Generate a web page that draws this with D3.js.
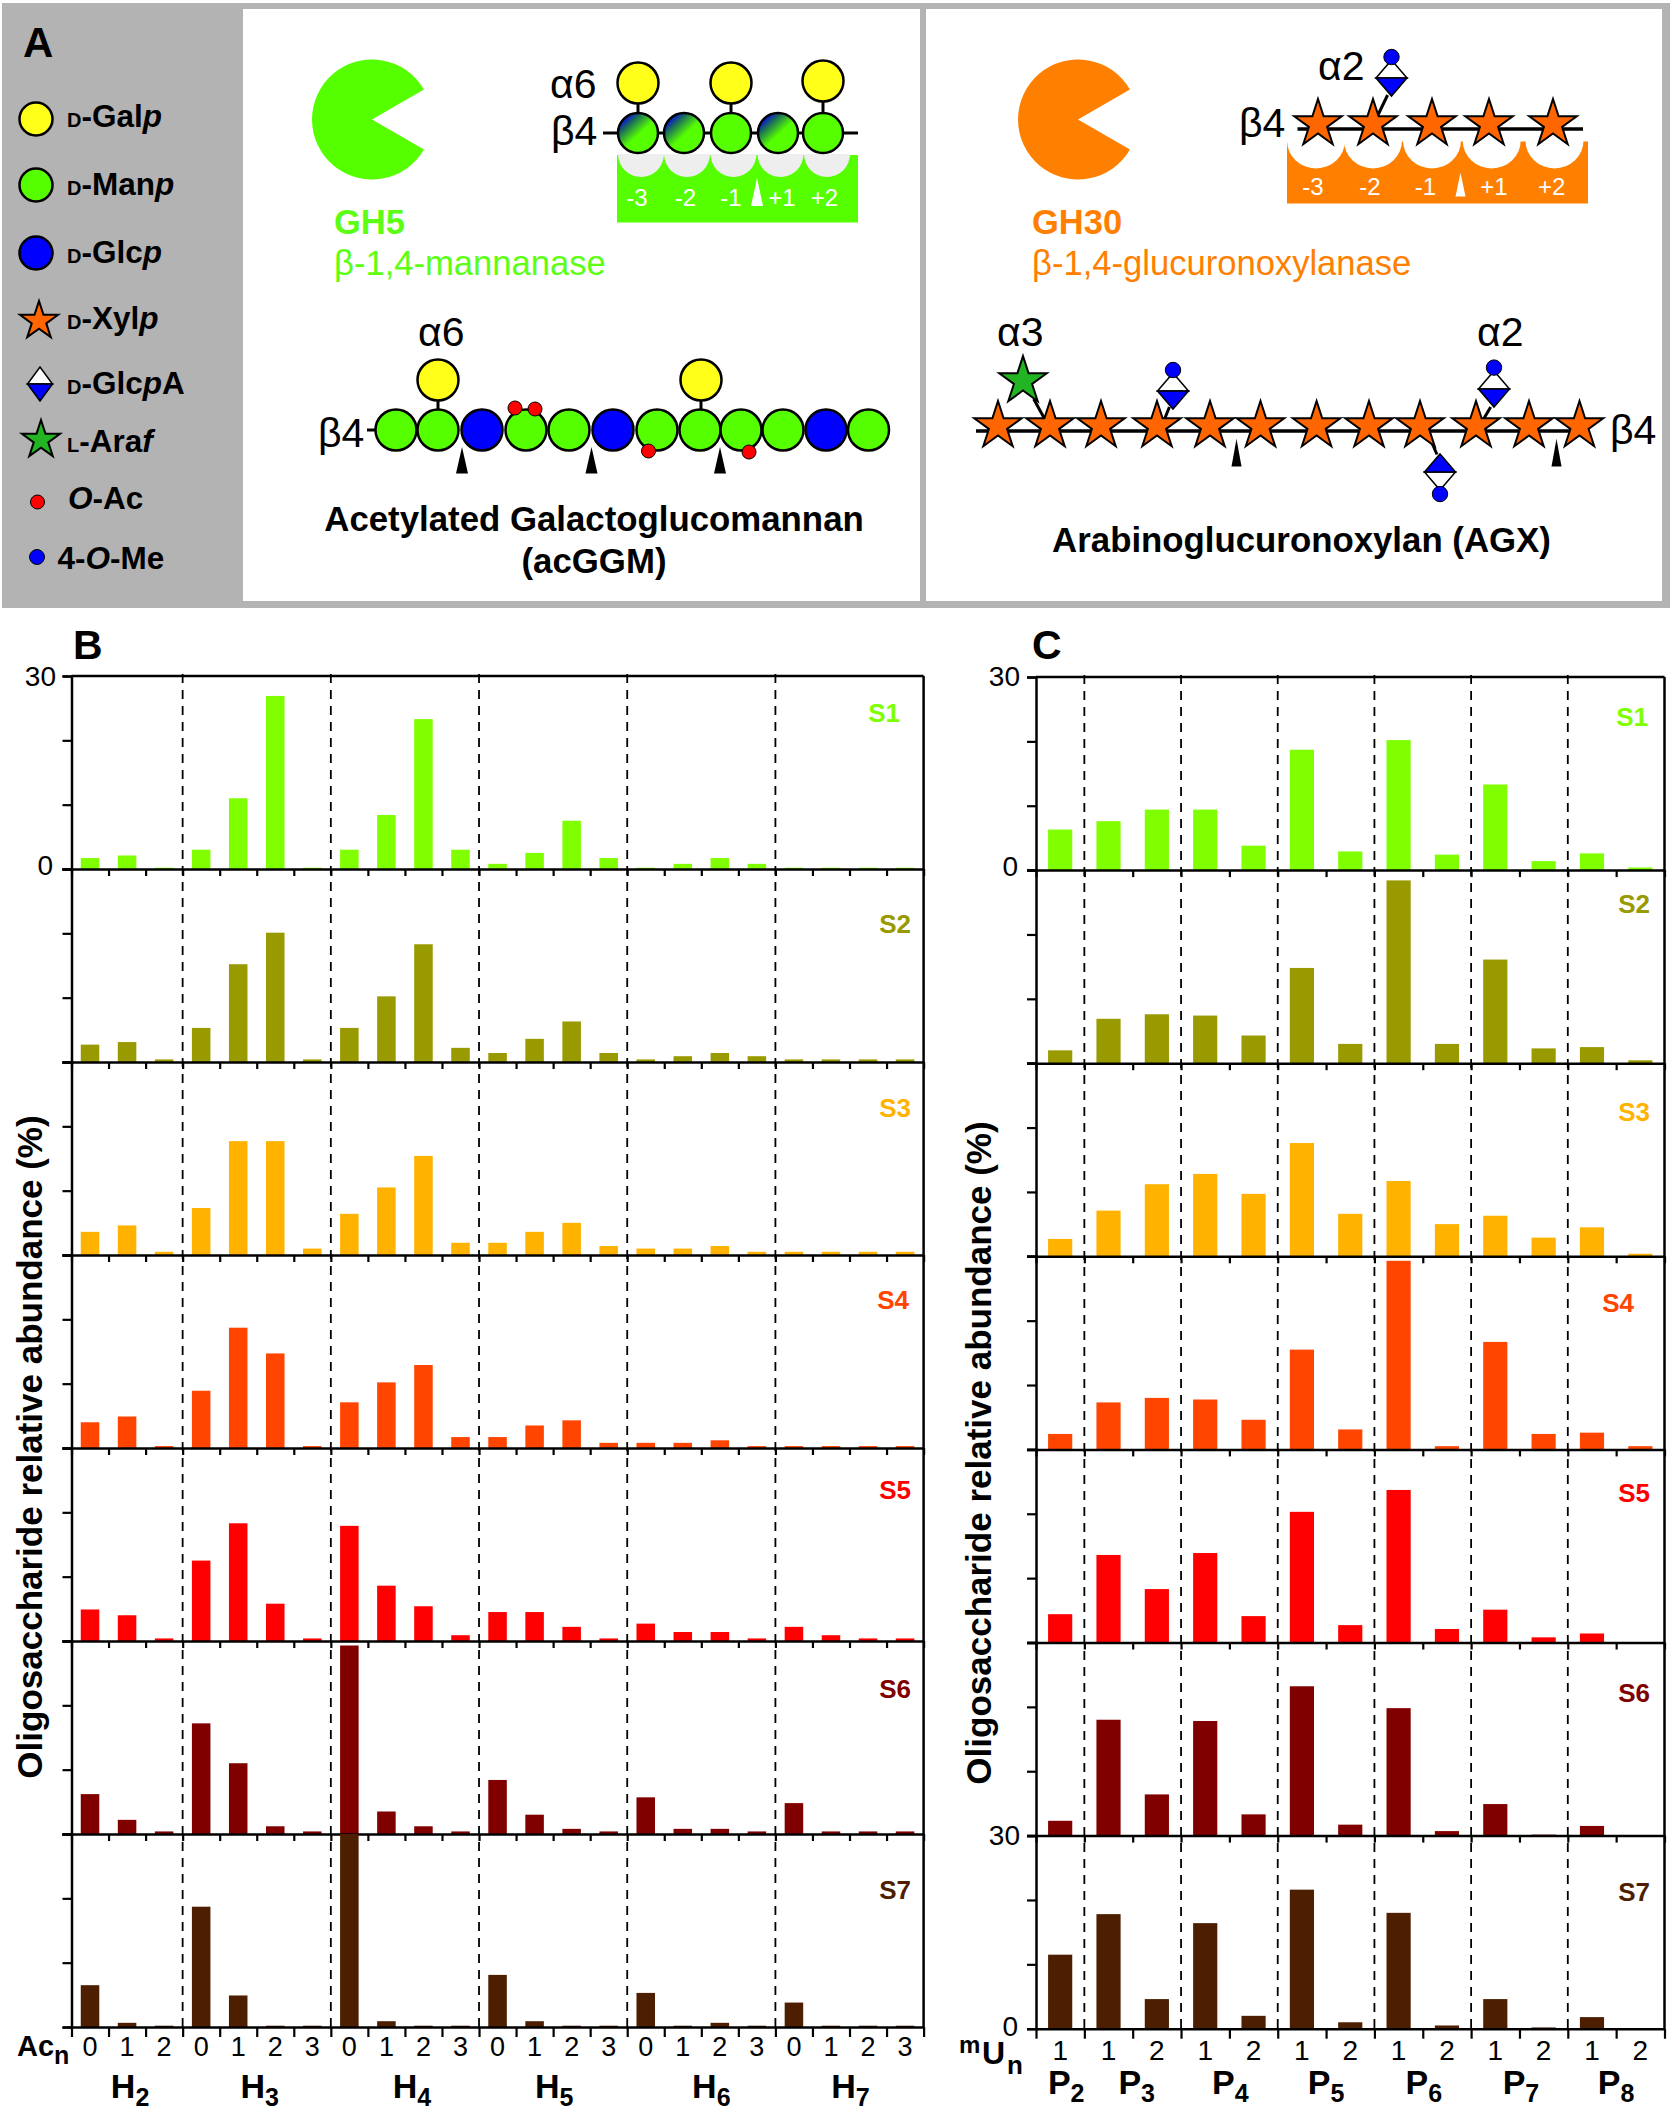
<!DOCTYPE html>
<html>
<head>
<meta charset="utf-8">
<style>
  body { margin: 0; background: #fff; }
  svg { display: block; }
  text { font-family: "Liberation Sans", Arial, sans-serif; fill: #000; }
</style>
<script src="https://cdn.jsdelivr.net/npm/d3@7"></script>
</head>
<body>
<div id="chart"></div>
<script>
// panel B: one value per Ac slot, H2 has 3 slots, the others 4
var hexoseGroups = ["2", "3", "4", "5", "6", "7"];
var acTicks = ["0","1","2", "0","1","2","3", "0","1","2","3", "0","1","2","3", "0","1","2","3", "0","1","2","3"];
var hGroupSizes = [3, 4, 4, 4, 4, 4];

var s1Hex = [1.7,2.1,0.2, 3.0,11.0,26.9,0.2, 3.0,8.4,23.3,3.0, 0.8,2.5,7.5,1.7, 0.2,0.8,1.7,0.8, 0.2,0.2,0.2,0.2];
var s2Hex = [2.7,3.1,0.4, 5.3,15.2,20.1,0.4, 5.3,10.2,18.3,2.2, 1.4,3.6,6.3,1.4, 0.4,0.9,1.4,0.9, 0.4,0.4,0.4,0.4];
var s3Hex = [3.6,4.6,0.5, 7.3,17.7,17.7,1.0, 6.4,10.5,15.4,1.9, 1.9,3.6,5.0,1.4, 1.0,1.0,1.4,0.5, 0.5,0.5,0.5,0.5];
var s4Hex = [4.0,4.9,0.3, 8.9,18.7,14.7,0.3, 7.1,10.2,12.9,1.7, 1.7,3.5,4.3,0.8, 0.8,0.8,1.2,0.3, 0.3,0.3,0.3,0.3];
var s5Hex = [4.9,4.0,0.4, 12.5,18.3,5.8,0.4, 17.9,8.6,5.4,0.9, 4.5,4.5,2.2,0.4, 2.7,1.4,1.4,0.4, 2.2,0.9,0.4,0.4];
var s6Hex = [6.2,2.2,0.4, 17.2,11.0,1.2,0.4, 29.3,3.5,1.2,0.4, 8.4,3.0,0.8,0.4, 5.7,0.8,0.8,0.4, 4.8,0.4,0.4,0.4];
var s7Hex = [6.5,0.65,0.2, 18.7,4.9,0.2,0.2, 30,0.9,0.2,0.2, 8.1,0.9,0.2,0.2, 5.3,0.2,0.65,0.2, 3.8,0.2,0.2,0.2];

// panel C: P2 has a single slot, the others 2
var pentoseGroups = ["2", "3", "4", "5", "6", "7", "8"];
var muTicks = ["1", "1","2", "1","2", "1","2", "1","2", "1","2", "1","2"];
var pGroupSizes = [1, 2, 2, 2, 2, 2, 2];

var s1Pen = [6.3, 7.6,9.4, 9.4,3.8, 18.7,2.9, 20.2,2.4, 13.3,1.4, 2.6,0.4];
var s2Pen = [2.0, 6.9,7.6, 7.4,4.3, 14.8,3.0, 28.4,3.0, 16.1,2.3, 2.5,0.45];
var s3Pen = [2.7, 7.1,11.2, 12.8,9.7, 17.6,6.6, 11.7,5.0, 6.3,2.9, 4.5,0.4];
var s4Pen = [2.4, 7.3,8.0, 7.75,4.6, 15.5,3.1, 29.3,0.5, 16.7,2.4, 2.6,0.5];
var s5Pen = [4.4, 13.6,8.3, 13.9,4.1, 20.3,2.7, 23.7,2.1, 5.1,0.8, 1.4,0];
var s6Pen = [2.3, 18.0,6.4, 17.8,3.3, 23.2,1.7, 19.8,0.7, 4.9,0.15, 1.5,0];
var s7Pen = [11.5, 17.8,4.6, 16.4,2.0, 21.6,1.0, 18.0,0.5, 4.6,0.2, 1.8,0];

var sampleNames = ["S1", "S2", "S3", "S4", "S5", "S6", "S7"];
var sampleColors = ["#80FF00", "#999900", "#FFB300", "#FF4500", "#FF0000", "#800000", "#4D1F00"];
var yTickValues = [0, 10, 20, 30];

var hexSeries = [s1Hex, s2Hex, s3Hex, s4Hex, s5Hex, s6Hex, s7Hex];
var penSeries = [s1Pen, s2Pen, s3Pen, s4Pen, s5Pen, s6Pen, s7Pen];

// sugar chains of panel A, order along the backbone
var ggmChain = ["man","man","glc","man","man","glc","man","man","man","man","glc","man"];
var enzymeGreen = "#55FF00", enzymeOrange = "#FF8000";
var sugarFill = { gal: "#FFFF19", man: "#55FF00", glc: "#0000FF", xyl: "#FF6600", ara: "#22B422" };

var svg = d3.select("#chart").append("svg")
  .attr("width", 1672)
  .attr("height", 2110);

var grad = svg.append("defs").append("linearGradient")
  .attr("id", "cutResidue")
  .attr("x1", "15%").attr("y1", "10%").attr("x2", "75%").attr("y2", "75%");
grad.append("stop").attr("offset", "0%").attr("stop-color", "#0000FF");
grad.append("stop").attr("offset", "25%").attr("stop-color", "#1B6B5A");
grad.append("stop").attr("offset", "65%").attr("stop-color", "#55FF00");

// writes a text made of runs, each run [string, {size, italic, dy}]
function rich(g, x, y, size, bold, runs, anchor, color) {
  var t = g.append("text")
    .attr("x", x).attr("y", y)
    .attr("font-size", size)
    .attr("font-weight", bold ? "bold" : "normal")
    .attr("text-anchor", anchor || "start");
  if (color) t.style("fill", color);
  if (typeof runs === "string") { t.text(runs); return t; }
  runs.forEach(function(r) {
    var opt = r[1] || {};
    var s = t.append("tspan").text(r[0]);
    if (opt.size) s.attr("font-size", opt.size);
    if (opt.italic) s.attr("font-style", "italic");
    if (opt.dy) s.attr("dy", opt.dy);
    if (color) s.style("fill", color);
  });
  return t;
}

/* ---------- panel A ---------- */
var panelA = svg.append("g");
panelA.append("rect").attr("x", 2).attr("y", 3).attr("width", 1668).attr("height", 605).attr("fill", "#B3B3B3");
panelA.append("rect").attr("x", 243).attr("y", 9).attr("width", 677).attr("height", 592).attr("fill", "#fff");
panelA.append("rect").attr("x", 926).attr("y", 9).attr("width", 736).attr("height", 592).attr("fill", "#fff");

function circle(x, y, r, fill, sw) {
  panelA.append("circle").attr("cx", x).attr("cy", y).attr("r", r)
    .attr("fill", fill).attr("stroke", "#000").attr("stroke-width", sw === undefined ? 2.5 : sw);
}
var starSymbol = d3.symbol().type(d3.symbolStar);
function star(x, y, R, fill) {
  panelA.append("path")
    .attr("d", starSymbol.size(R * R / 0.8908)())
    .attr("transform", "translate(" + x + "," + y + ")")
    .attr("fill", fill).attr("stroke", "#000").attr("stroke-width", 2);
}
function line(x1, y1, x2, y2, w) {
  panelA.append("line").attr("x1", x1).attr("y1", y1).attr("x2", x2).attr("y2", y2)
    .attr("stroke", "#000").attr("stroke-width", w || 3);
}
function tri(x, yApex, yBase, half, fill) {
  panelA.append("path")
    .attr("d", d3.line()([[x, yApex], [x + half, yBase], [x - half, yBase]]) + "Z")
    .attr("fill", fill);
}
// GlcA diamond, flip puts the blue half on top for the residue below the chain
function diamond(x, y, w, h, flip) {
  var d = flip ? -1 : 1;
  panelA.append("path").attr("d", d3.line()([[x - w, y], [x, y - d * h], [x + w, y]]) + "Z")
    .attr("fill", "#fff").attr("stroke", "#000").attr("stroke-width", 1.5);
  panelA.append("path").attr("d", d3.line()([[x - w, y], [x, y + d * h], [x + w, y]]) + "Z")
    .attr("fill", "#0000FF").attr("stroke", "#000").attr("stroke-width", 1.5);
}

rich(panelA, 23, 57, 42, true, "A");

// legend
circle(36, 119, 16.5, sugarFill.gal);
circle(36, 185, 16.5, sugarFill.man);
circle(36, 253, 16.5, sugarFill.glc);
star(39, 321, 20, sugarFill.xyl);
diamond(40, 384, 12.5, 17);
star(41, 440, 20, sugarFill.ara);
circle(37.5, 502, 7, "#FF0000", 1);
circle(37, 557, 7.5, "#0000FF", 1);
var sc = { size: 20 };
rich(panelA, 67, 127, 31.5, true, [["D", sc], ["-Gal"], ["p", { italic: true }]]);
rich(panelA, 67, 194.5, 31.5, true, [["D", sc], ["-Man"], ["p", { italic: true }]]);
rich(panelA, 67, 263, 31.5, true, [["D", sc], ["-Glc"], ["p", { italic: true }]]);
rich(panelA, 67, 329, 31.5, true, [["D", sc], ["-Xyl"], ["p", { italic: true }]]);
rich(panelA, 67, 394, 31.5, true, [["D", sc], ["-Glc"], ["p", { italic: true }], ["A"]]);
rich(panelA, 67, 452, 31.5, true, [["L", sc], ["-Ara"], ["f", { italic: true }]]);
rich(panelA, 68, 509, 31.5, true, [["O", { italic: true }], ["-Ac"]]);
rich(panelA, 57.5, 569, 31.5, true, [["4-"], ["O", { italic: true }], ["-Me"]]);

// the two enzymes
var pacman = d3.arc().innerRadius(0).outerRadius(60)
  .startAngle(Math.PI * 2 / 3).endAngle(Math.PI * 7 / 3);
panelA.append("path").attr("d", pacman()).attr("transform", "translate(372,119.5)").attr("fill", enzymeGreen);
panelA.append("path").attr("d", pacman()).attr("transform", "translate(1078,119.5)").attr("fill", enzymeOrange);

rich(panelA, 334, 234, 34.5, true, "GH5", "start", "#5CFF14");
rich(panelA, 334, 275, 34.6, false, "β-1,4-mannanase", "start", "#5CFF14");
rich(panelA, 1032, 234, 34.5, true, "GH30", "start", enzymeOrange);
rich(panelA, 1032, 275, 34.6, false, "β-1,4-glucuronoxylanase", "start", enzymeOrange);

// GH5 binding cleft
var gh5X = [638, 684, 731, 778, 823];
var gh5Pocket = [641, 687, 733.5, 780.5, 827];
var gh5Sites = [[637, "-3"], [685.5, "-2"], [731, "-1"], [782, "+1"], [824.5, "+2"]];
panelA.append("rect").attr("x", 617).attr("y", 155).attr("width", 241).attr("height", 67.5).attr("fill", enzymeGreen);
gh5Pocket.forEach(function(x) {
  panelA.append("path").attr("fill", "#EEEEEE")
    .attr("d", "M" + (x - 23) + ",154A23,23 0 0 0 " + (x + 23) + ",154Z");
});
gh5Sites.forEach(function(d) { rich(panelA, d[0], 205.5, 24, false, d[1], "middle", "#fff"); });
tri(757, 178, 206, 6, "#fff");
line(603, 133, 858, 133);
[0, 2, 4].forEach(function(i) {
  line(gh5X[i], 100, gh5X[i], 115);
  circle(gh5X[i], i == 4 ? 81 : 83, 20.5, sugarFill.gal);
});
gh5X.forEach(function(x, i) {
  circle(x, 133, 20, (i == 2 || i == 4) ? sugarFill.man : "url(#cutResidue)");
});
rich(panelA, 550, 98, 41, false, "α6");
rich(panelA, 551, 145, 41, false, "β4");

// acGGM chain
var ggmX = [396, 438, 482, 526, 569, 613, 657, 700, 741, 783, 826, 868.5];
line(367, 430, 400, 430);
line(438, 395, 438, 410);
line(701, 395, 701, 410);
circle(438, 380, 20.5, sugarFill.gal);
circle(701, 380, 20.5, sugarFill.gal);
ggmChain.forEach(function(s, i) { circle(ggmX[i], 430, 20.5, sugarFill[s]); });
[[515, 408], [535, 409], [648.5, 451], [749, 452]].forEach(function(p) {
  circle(p[0], p[1], 7, "#FF0000", 1);
});
[462, 591.5, 720].forEach(function(x) { tri(x, 447, 473.5, 6, "#000"); });
rich(panelA, 318, 447, 41, false, "β4");
rich(panelA, 418, 346, 41, false, "α6");
rich(panelA, 594, 531, 34.8, true, "Acetylated Galactoglucomannan", "middle");
rich(panelA, 594, 573, 34.8, true, "(acGGM)", "middle");

// GH30 binding cleft
var gh30X = [1318, 1373, 1432, 1489, 1553];
var gh30Pocket = [1316, 1373, 1432, 1491.7, 1554.5];
var gh30Sites = [[1313, "-3"], [1370, "-2"], [1425.5, "-1"], [1494, "+1"], [1551.6, "+2"]];
panelA.append("rect").attr("x", 1287).attr("y", 141.5).attr("width", 301).attr("height", 62).attr("fill", enzymeOrange);
gh30Pocket.forEach(function(x) {
  panelA.append("path").attr("fill", "#fff")
    .attr("d", "M" + (x - 29) + ",140.5A29,28 0 0 0 " + (x + 29) + ",140.5Z");
});
gh30Sites.forEach(function(d) { rich(panelA, d[0], 194.5, 24, false, d[1], "middle", "#fff"); });
tri(1460.5, 172.7, 196.4, 5, "#fff");
line(1297.5, 129, 1583, 129, 3.5);
line(1387.6, 95, 1378, 115, 3);
gh30X.forEach(function(x) { star(x, 124, 25, sugarFill.xyl); });
diamond(1391.5, 78, 15.5, 18);
circle(1391.5, 57, 7.7, "#0000FF", 1);
rich(panelA, 1318, 80, 41, false, "α2");
rich(panelA, 1239, 137, 41, false, "β4");

// AGX chain
var agxX = [998, 1050, 1101, 1157, 1210, 1260.5, 1316.6, 1369, 1420, 1476, 1529, 1579.5];
line(976, 431, 1572, 431, 3.5);
line(1033.7, 399, 1044.7, 419, 3);
line(1169.4, 407, 1164.6, 419, 3);
line(1490.7, 407, 1483.6, 419, 3);
line(1428.4, 435, 1437, 454.5, 3);
agxX.forEach(function(x) { star(x, 426, 25, sugarFill.xyl); });
star(1023, 381, 25, sugarFill.ara);
diamond(1173, 391, 15.5, 18);
circle(1173, 370, 7.7, "#0000FF", 1);
diamond(1494, 389, 15.5, 18);
circle(1494, 367.6, 7.7, "#0000FF", 1);
diamond(1440, 472, 15.5, 18, true);
circle(1440, 494, 7.7, "#0000FF", 1);
[1236.5, 1556.5].forEach(function(x) { tri(x, 438.7, 466.4, 5, "#000"); });
rich(panelA, 997, 346, 41, false, "α3");
rich(panelA, 1477, 346, 41, false, "α2");
rich(panelA, 1610, 444, 41, false, "β4");
rich(panelA, 1301.5, 552, 34.8, true, "Arabinoglucuronoxylan (AGX)", "middle");

/* ---------- panels B and C ---------- */
function drawPanel(opt) {
  var g = svg.append("g");
  var n = opt.ticks.length;
  var rowH = opt.rowH;
  var x = d3.scaleBand().domain(d3.range(n)).range([opt.left, opt.right]).paddingInner(0.5).paddingOuter(0.25);
  var xEdge = d3.scaleLinear().domain([0, n]).range([opt.left, opt.right]);

  opt.series.forEach(function(values, i) {
    var base = opt.top + (i + 1) * rowH;
    var y = d3.scaleLinear().domain([0, 30]).range([base, base - rowH]);
    var row = g.append("g");

    row.selectAll("rect").data(values).enter().append("rect")
      .attr("x", function(d, k) { return x(k); })
      .attr("y", function(d) { return y(d); })
      .attr("width", x.bandwidth())
      .attr("height", function(d) { return y(0) - y(d); })
      .attr("fill", sampleColors[i]);

    var yAxis = row.append("g").attr("transform", "translate(" + opt.left + ",0)")
      .call(d3.axisLeft(y).tickValues(yTickValues).tickSize(9).tickFormat(""));
    yAxis.selectAll("line").attr("stroke-width", 2.2);
    yAxis.select(".domain").attr("stroke-width", 2.5);

    var xAxis = row.append("g").attr("transform", "translate(0," + base + ")")
      .call(d3.axisBottom(xEdge).tickValues(d3.range(n + 1)).tickSize(i == 6 ? 10 : 7).tickFormat("").tickSizeOuter(0));
    xAxis.selectAll("line").attr("stroke-width", 2.2);
    xAxis.select(".domain").attr("stroke-width", 2.5);

    rich(g, opt.sampleX[i], opt.sampleY[i], 26, true, sampleNames[i], "end", sampleColors[i]);
  });

  // frame closes on top and right
  g.append("line").attr("x1", opt.left).attr("x2", opt.right).attr("y1", opt.top).attr("y2", opt.top)
    .attr("stroke", "#000").attr("stroke-width", 2.5);
  g.append("line").attr("x1", opt.right).attr("x2", opt.right).attr("y1", opt.top).attr("y2", opt.top + 7 * rowH)
    .attr("stroke", "#000").attr("stroke-width", 2.5);

  // dashed separators between the oligomer groups
  var edge = 0;
  opt.groupSizes.forEach(function(size, i) {
    var start = edge;
    edge += size;
    rich(g, xEdge((start + edge) / 2) + opt.groupShift[i], opt.groupY, 34,
      true, [[opt.groupLetter], [opt.groups[i], { size: 25, dy: 8 }]], "middle");
    if (i == opt.groupSizes.length - 1) return;
    g.append("line")
      .attr("x1", xEdge(edge)).attr("x2", xEdge(edge))
      .attr("y1", opt.top - 2).attr("y2", opt.top + 7 * rowH)
      .attr("stroke", "#000").attr("stroke-width", 1.8)
      .attr("stroke-dasharray", "9,7");
  });

  opt.ticks.forEach(function(t, k) {
    rich(g, x(k) + x.bandwidth() / 2, opt.tickY, opt.tickSize, false, t, "middle");
  });
  return g;
}

var bPanel = drawPanel({
  series: hexSeries, ticks: acTicks, groups: hexoseGroups, groupSizes: hGroupSizes, groupLetter: "H",
  groupShift: [3, 3, 7, 1, 10, 1], groupY: 2098, tickY: 2056, tickSize: 27,
  left: 71.5, right: 923.6, top: 676, rowH: 193,
  sampleX: [900, 911, 911, 909, 911, 911, 911],
  sampleY: [722, 932.6, 1117, 1309, 1498.7, 1698, 1899]
});
rich(bPanel, 73, 659, 41, true, "B");
rich(bPanel, 56, 686, 28, false, "30", "end");
rich(bPanel, 53, 875, 28, false, "0", "end");
rich(bPanel, 17, 2056, 29, true, [["Ac"], ["n", { size: 25, dy: 8 }]]);
rich(bPanel, 0, 0, 35, true, "Oligosaccharide relative abundance (%)", "middle")
  .attr("transform", "translate(42,1447) rotate(-90)");

var cPanel = drawPanel({
  series: penSeries, ticks: muTicks, groups: pentoseGroups, groupSizes: pGroupSizes, groupLetter: "P",
  groupShift: [6, 4, 1, 0, 1, 1.5, 0], groupY: 2094, tickY: 2060, tickSize: 28,
  left: 1036, right: 1664.5, top: 677, rowH: 193.1,
  sampleX: [1648, 1650, 1650, 1634, 1650, 1650, 1650],
  sampleY: [725.7, 913, 1120.7, 1311.7, 1502, 1702, 1901.4]
});
rich(cPanel, 1032, 659, 41, true, "C");
rich(cPanel, 1020, 686, 28, false, "30", "end");
rich(cPanel, 1018, 875.5, 28, false, "0", "end");
rich(cPanel, 1020, 1844.6, 28, false, "30", "end");
rich(cPanel, 1018, 2036, 28, false, "0", "end");
rich(cPanel, 959, 2053, 24, true, "m");
rich(cPanel, 982, 2064, 32, true, "U");
rich(cPanel, 1007, 2074, 26, true, "n");
rich(cPanel, 0, 0, 35, true, "Oligosaccharide relative abundance (%)", "middle")
  .attr("transform", "translate(991,1453) rotate(-90)");
</script>
</body>
</html>
